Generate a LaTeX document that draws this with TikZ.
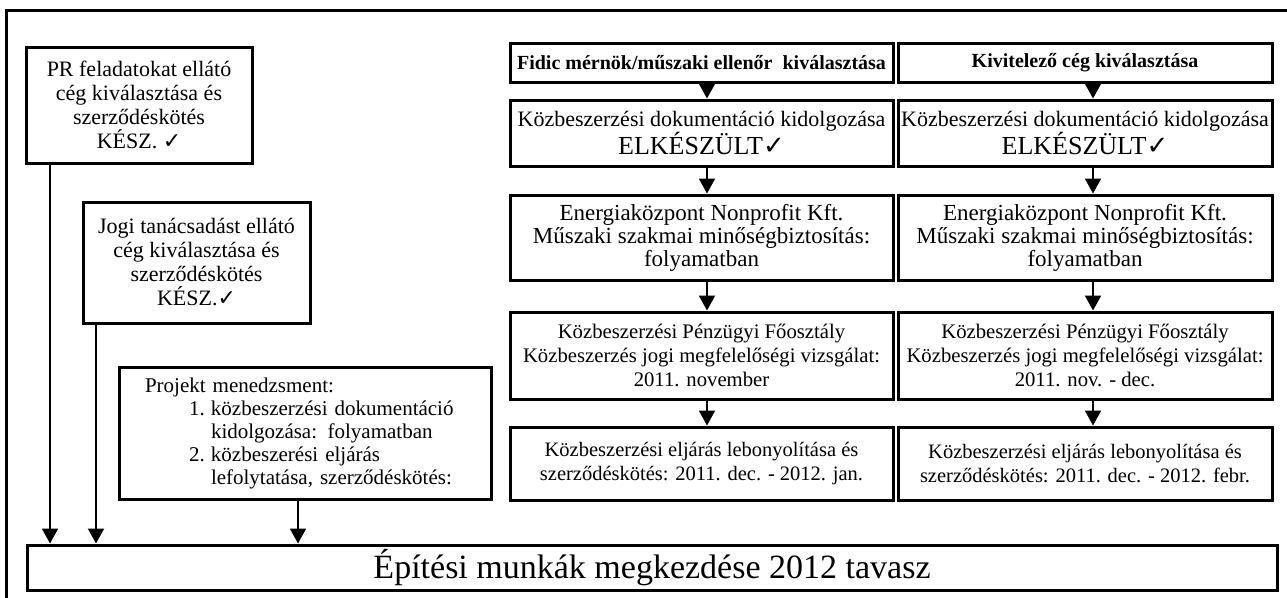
\documentclass[tikz,border=0pt]{standalone}
\usepackage{fontspec}
\setmainfont{Liberation Serif}
\newfontfamily\symfont{DejaVu Sans}
\newcommand\ckm{{\symfont ✓}}
\usetikzlibrary{arrows.meta}
\begin{document}
\begin{tikzpicture}[x=1pt,y=-1pt,
  box/.style={draw, line width=3pt, inner sep=0pt, align=center, fill=white},
  arr/.style={line width=2pt, -{Triangle[width=16pt,length=15pt]}},
  bodyA/.style={font=\fontsize{22}{23.5}\selectfont},
  bodyB/.style={font=\fontsize{23}{23}\selectfont},
  bodyC/.style={font=\fontsize{20.7}{24}\selectfont},
  bodyD/.style={font=\fontsize{20.5}{24}\selectfont},
  side/.style={font=\fontsize{22}{24}\selectfont},
  headf/.style={font=\fontsize{20}{22}\selectfont\bfseries},
  colL/.style={minimum width=383pt},
  colR/.style={minimum width=374pt}]
\useasboundingbox (0,0) rectangle (1287,597);
\draw[line width=3pt] (6,600) -- (6,10) -- (1290,10);

% left side boxes
\node[box, side, minimum width=226pt, minimum height=116pt] (pr) at (139,105)
  {PR feladatokat ellátó\\cég kiválasztása és\\szerződéskötés\\KÉSZ. \ckm};
\node[box, side, minimum width=227pt, minimum height=121pt] (jogi) at (196.5,262.5)
  {Jogi tanácsadást ellátó\\cég kiválasztása és\\szerződéskötés\\KÉSZ.\ckm};
\node[box, font=\fontsize{21}{23}\selectfont, text width=340pt, inner xsep=16pt, inner ysep=0pt,
  align=left, minimum height=132pt] (pm) at (305,433)
  {\hspace*{10pt}Projekt menedzsment:\\
   \hspace*{54pt}\makebox[22pt][l]{1.}közbeszerzési dokumentáció\\
   \hspace*{76pt}kidolgozása: folyamatban\\
   \hspace*{54pt}\makebox[22pt][l]{2.}közbeszerési eljárás\\
   \hspace*{76pt}lefolytatása, szerződéskötés:};

% left column
\node[box, headf, colL, minimum height=39pt] (a1) at (701.5,62.5)
  {Fidic mérnök/műszaki ellenőr\ \ kiválasztása};
\node[box, bodyA, colL, minimum height=66pt] (a2) at (701.5,133)
  {Közbeszerzési dokumentáció kidolgozása\\{\fontsize{26}{28}\selectfont ELKÉSZÜLT\ckm}};
\node[box, bodyB, colL, minimum height=85pt] (a3) at (701.5,237.5)
  {Energiaközpont Nonprofit Kft.\\Műszaki szakmai minőségbiztosítás:\\folyamatban};
\node[box, bodyC, colL, minimum height=87pt] (a4) at (701.5,355.5)
  {Közbeszerzési Pénzügyi Főosztály\\Közbeszerzés jogi megfelelőségi vizsgálat:\\2011. november};
\node[box, bodyD, colL, minimum height=73pt] (a5) at (701.5,463.5)
  {Közbeszerzési eljárás lebonyolítása és\\szerződéskötés: 2011. dec. - 2012. jan.};

% right column
\node[box, headf, colR, minimum height=39pt] (b1) at (1085,62.5)
  {Kivitelező cég kiválasztása};
\node[box, bodyA, colR, minimum height=66pt] (b2) at (1085,133)
  {Közbeszerzési dokumentáció kidolgozása\\{\fontsize{26}{28}\selectfont ELKÉSZÜLT\ckm}};
\node[box, bodyB, colR, minimum height=85pt] (b3) at (1085,237.5)
  {Energiaközpont Nonprofit Kft.\\Műszaki szakmai minőségbiztosítás:\\folyamatban};
\node[box, bodyC, colR, minimum height=87pt] (b4) at (1085,355.5)
  {Közbeszerzési Pénzügyi Főosztály\\Közbeszerzés jogi megfelelőségi vizsgálat:\\2011. nov. - dec.};
\node[box, bodyD, colR, minimum height=73pt] (b5) at (1085,463.5)
  {Közbeszerzési eljárás lebonyolítása és\\szerződéskötés: 2011. dec. - 2012. febr.};

% bottom box
\node[box, font=\fontsize{34}{36}\selectfont, minimum width=1250pt, minimum height=45pt] (start) at (652,567.5)
  {Építési munkák megkezdése 2012 tavasz};

% arrow columns
\coordinate (xpr) at (50,0);
\coordinate (xjo) at (96,0);
\coordinate (xpm) at (298,0);
\coordinate (xa) at (707,0);
\coordinate (xb) at (1093,0);

\draw[arr] (pr.south -| xpr) -- (start.north -| xpr);
\draw[arr] (jogi.south -| xjo) -- (start.north -| xjo);
\draw[arr] (pm.south -| xpm) -- (start.north -| xpm);

\draw[arr] (a1.south -| xa) -- (a2.north -| xa);
\draw[arr] (a2.south -| xa) -- (a3.north -| xa);
\draw[arr] (a3.south -| xa) -- (a4.north -| xa);
\draw[arr] (a4.south -| xa) -- (a5.north -| xa);

\draw[arr] (b1.south -| xb) -- (b2.north -| xb);
\draw[arr] (b2.south -| xb) -- (b3.north -| xb);
\draw[arr] (b3.south -| xb) -- (b4.north -| xb);
\draw[arr] (b4.south -| xb) -- (b5.north -| xb);
\end{tikzpicture}
\end{document}
